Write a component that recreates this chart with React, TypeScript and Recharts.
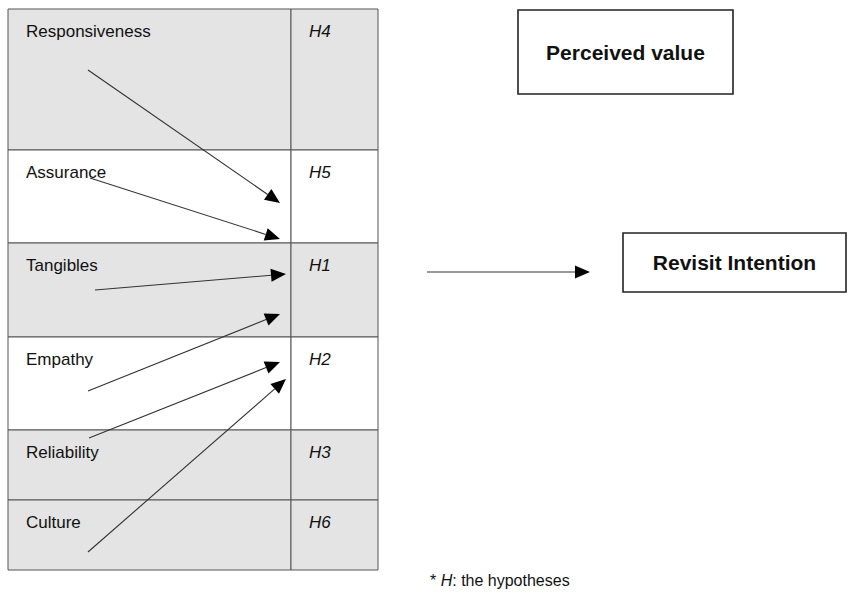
import { ComposedChart, XAxis, YAxis, ReferenceArea, ReferenceLine, ReferenceDot } from "recharts";

// diagram space = page pixels, mapped through hidden numeric axes
const factors = ["Responsiveness", "Assurance", "Tangibles", "Empathy", "Reliability", "Culture"];
const hypotheses = ["H4", "H5", "H1", "H2", "H3", "H6"];
const rowEdges = [9, 150, 243, 337, 430, 500, 570];
const rowShaded = [true, false, true, false, true, true];
const tableCols = [8, 291, 378];

// arrows from factor to perceived-value column
const arrowFromX = [88, 90, 95, 88, 89, 88];
const arrowFromY = [70, 178, 290, 391, 438, 552];
const arrowToX = [280, 280, 286, 280, 280, 286];
const arrowToY = [203, 239, 274, 314, 362, 379];

const outcomes = ["Perceived value", "Revisit Intention"];
const outcomeX = [[518, 733], [623, 846]];
const outcomeY = [[10, 94], [233, 292]];
const mainArrow = [{ x: 427, y: 272 }, { x: 590, y: 272 }];

const footnoteAt = { x: 430, y: 586 };

const FONT = "'Liberation Sans', Arial, sans-serif";
const INK = "#111";

function Arrow(props: any) {
  const { x1, y1, x2, y2 } = props;
  const dx = x2 - x1;
  const dy = y2 - y1;
  const len = Math.sqrt(dx * dx + dy * dy);
  const ux = dx / len;
  const uy = dy / len;
  const headL = 15;
  const headW = 6.5;
  const bx = x2 - ux * headL;
  const by = y2 - uy * headL;
  const pts = `${x2},${y2} ${bx - uy * headW},${by + ux * headW} ${bx + uy * headW},${by - ux * headW}`;
  return (
    <g>
      <line x1={x1} y1={y1} x2={bx} y2={by} stroke="#333" strokeWidth={1.1} />
      <polygon points={pts} fill="#000" />
    </g>
  );
}

function cellLabel(text: string, italic: boolean) {
  return (p: any) => {
    const vb = p.viewBox;
    return (
      <text
        x={vb.x + 18}
        y={vb.y + 28}
        fontFamily={FONT}
        fontSize={17}
        fontStyle={italic ? "italic" : "normal"}
        fill={INK}
      >
        {text}
      </text>
    );
  };
}

function boxLabel(text: string) {
  return (p: any) => {
    const vb = p.viewBox;
    return (
      <text
        x={vb.x + vb.width / 2}
        y={vb.y + vb.height / 2}
        textAnchor="middle"
        dominantBaseline="central"
        fontFamily={FONT}
        fontSize={21}
        fontWeight="bold"
        fill={INK}
      >
        {text}
      </text>
    );
  };
}

function Footnote(props: any) {
  return (
    <text x={props.cx} y={props.cy} fontFamily={FONT} fontSize={16} fill={INK}>
      <tspan>* </tspan>
      <tspan fontStyle="italic">H</tspan>
      <tspan>: the hypotheses</tspan>
    </text>
  );
}

export default function App() {
  return (
    <div style={{ position: "absolute", left: 0, top: 0, background: "#fff" }}>
      <ComposedChart width={851} height={592} margin={{ top: 0, right: 0, bottom: 0, left: 0 }} data={[]}>
        <XAxis type="number" dataKey="x" domain={[0, 851]} allowDataOverflow hide />
        <YAxis type="number" dataKey="y" domain={[0, 592]} allowDataOverflow reversed hide />

        {factors.map((name, i) => (
          <ReferenceArea
            key={`f-${name}`}
            x1={tableCols[0]}
            x2={tableCols[1]}
            y1={rowEdges[i]}
            y2={rowEdges[i + 1]}
            fill={rowShaded[i] ? "#e4e4e4" : "#ffffff"}
            fillOpacity={1}
            stroke="#555"
            strokeWidth={1}
            label={cellLabel(name, false)}
          />
        ))}
        {hypotheses.map((h, i) => (
          <ReferenceArea
            key={`h-${h}`}
            x1={tableCols[1]}
            x2={tableCols[2]}
            y1={rowEdges[i]}
            y2={rowEdges[i + 1]}
            fill={rowShaded[i] ? "#e4e4e4" : "#ffffff"}
            fillOpacity={1}
            stroke="#555"
            strokeWidth={1}
            label={cellLabel(h, true)}
          />
        ))}

        {outcomes.map((name, i) => (
          <ReferenceArea
            key={name}
            x1={outcomeX[i][0]}
            x2={outcomeX[i][1]}
            y1={outcomeY[i][0]}
            y2={outcomeY[i][1]}
            fill="#fff"
            fillOpacity={1}
            stroke="#222"
            strokeWidth={1.6}
            label={boxLabel(name)}
          />
        ))}

        {factors.map((name, i) => (
          <ReferenceLine
            key={`a-${name}`}
            segment={[
              { x: arrowFromX[i], y: arrowFromY[i] },
              { x: arrowToX[i], y: arrowToY[i] },
            ]}
            shape={Arrow}
          />
        ))}
        <ReferenceLine segment={mainArrow} shape={Arrow} />

        <ReferenceDot x={footnoteAt.x} y={footnoteAt.y} r={0} shape={Footnote} />
      </ComposedChart>
    </div>
  );
}
